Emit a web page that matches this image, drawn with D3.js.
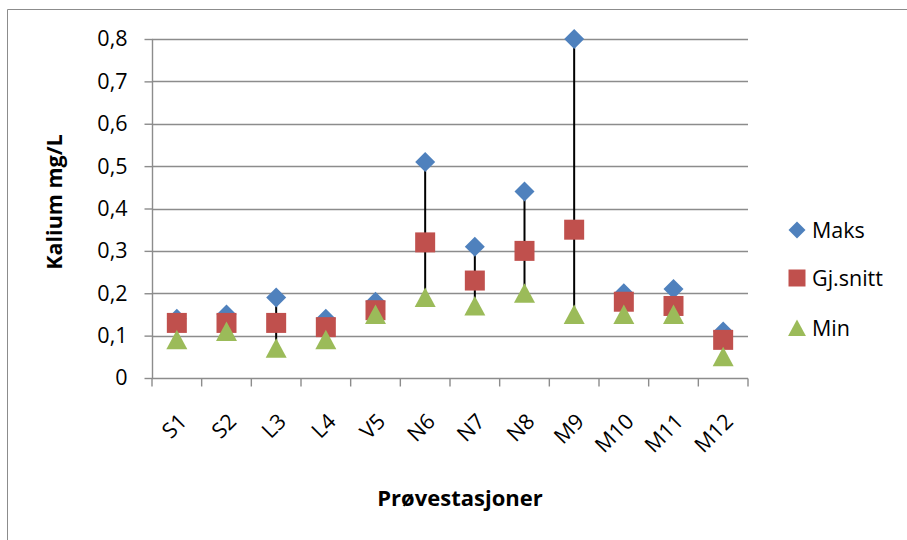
<!DOCTYPE html>
<html>
<head>
<meta charset="utf-8">
<script src="https://cdn.jsdelivr.net/npm/d3@7"></script>
<style>
  html, body { margin: 0; padding: 0; background: #fff; }
  svg { display: block; }
  text { font-family: "Open Sans", Lato, sans-serif; fill: #000; }
</style>
</head>
<body>
<svg id="chart" width="907" height="540"></svg>
<script>
// Sampling stations
const stations = ["S1", "S2", "L3", "L4", "V5", "N6", "N7", "N8", "M9", "M10", "M11", "M12"];
// Potassium (mg/L) per station
const maks   = [0.14, 0.15, 0.19, 0.14, 0.18, 0.51, 0.31, 0.44, 0.80, 0.20, 0.21, 0.11];
const snitt  = [0.13, 0.13, 0.13, 0.12, 0.16, 0.32, 0.23, 0.30, 0.35, 0.18, 0.17, 0.09];
const minVal = [0.09, 0.11, 0.07, 0.09, 0.15, 0.19, 0.17, 0.20, 0.15, 0.15, 0.15, 0.05];
const yTicks = [0, 0.1, 0.2, 0.3, 0.4, 0.5, 0.6, 0.7, 0.8];
const seriesNames = ["Maks", "Gj.snitt", "Min"];

const colors = { maks: "#4F81BD", snitt: "#C0504D", min: "#9BBB59" };
const FS = 21.5;
const svg = d3.select("#chart");

// chart frame
svg.append("path")
  .attr("d", "M7.5,560 V9.5 H920")
  .attr("fill", "none").attr("stroke", "#8c8c8c").attr("stroke-width", 1);

const plot = { left: 152, right: 748, top: 39, bottom: 378 };

const x = d3.scaleBand().domain(stations).range([plot.left, plot.right]);
const y = d3.scaleLinear().domain([0, 0.8]).range([plot.bottom, plot.top]);

// horizontal gridlines
svg.append("g").selectAll("line").data(yTicks.slice(1)).join("line")
  .attr("x1", plot.left).attr("x2", plot.right)
  .attr("y1", d => Math.round(y(d)) + 0.5).attr("y2", d => Math.round(y(d)) + 0.5)
  .attr("stroke", "#8c8c8c").attr("stroke-width", 1.4);

// y axis
const yAxis = svg.append("g")
  .attr("transform", `translate(${plot.left + 0.5},0)`)
  .call(d3.axisLeft(y).tickValues(yTicks).tickSize(8).tickPadding(17)
    .tickFormat(d => d === 0 ? "0" : d3.format(".1f")(d).replace(".", ",")));
yAxis.select(".domain").attr("stroke", "#8c8c8c").attr("stroke-width", 1.4).attr("d", `M0,${plot.top}V${plot.bottom}`);
yAxis.selectAll(".tick line").attr("stroke", "#8c8c8c").attr("stroke-width", 1.4);
yAxis.selectAll(".tick text").attr("font-size", FS).attr("font-family", "'Open Sans', sans-serif").attr("fill", "#000");

// x axis
const xAxis = svg.append("g")
  .attr("transform", `translate(0,${plot.bottom + 0.5})`);
xAxis.append("line")
  .attr("x1", plot.left).attr("x2", plot.right)
  .attr("stroke", "#8c8c8c").attr("stroke-width", 1.4);
const xTickPos = d3.range(stations.length + 1).map(i => plot.left + i * x.bandwidth());
xAxis.selectAll("line.tk").data(xTickPos).join("line").attr("class", "tk")
  .attr("x1", d => d).attr("x2", d => d).attr("y1", 0).attr("y2", 8)
  .attr("stroke", "#8c8c8c").attr("stroke-width", 1.4);
xAxis.selectAll("text").data(stations).join("text")
  .attr("transform", d => `translate(${x(d) + x.bandwidth() / 2 + 6},${39}) rotate(-45)`)
  .attr("text-anchor", "end").attr("dy", "0.35em")
  .attr("font-size", FS)
  .text(d => d);

// axis titles
svg.append("text")
  .attr("transform", "translate(62,202) rotate(-90)")
  .attr("text-anchor", "middle").attr("font-weight", "bold").attr("font-size", FS)
  .text("Kalium mg/L");
svg.append("text")
  .attr("x", 460).attr("y", 506)
  .attr("text-anchor", "middle").attr("font-weight", "bold").attr("font-size", FS + 0.5)
  .text("Prøvestasjoner");

const cx = i => x(stations[i]) + x.bandwidth() / 2;

// high-low lines
svg.append("g").selectAll("line").data(stations).join("line")
  .attr("x1", (d, i) => cx(i)).attr("x2", (d, i) => cx(i))
  .attr("y1", (d, i) => y(maks[i])).attr("y2", (d, i) => y(minVal[i]))
  .attr("stroke", "#000").attr("stroke-width", 2);

// marker shapes
const diamond = s => `M0,${-s}L${s},0L0,${s}L${-s},0Z`;
const square = s => `M${-s},${-s}H${s}V${s}H${-s}Z`;
const triangle = s => `M0,${-s}L${s * 1.05},${s * 0.95}H${-s * 1.05}Z`;

svg.append("g").selectAll("path").data(maks).join("path")
  .attr("transform", (d, i) => `translate(${cx(i)},${y(d)})`)
  .attr("d", diamond(10)).attr("fill", colors.maks);
svg.append("g").selectAll("path").data(snitt).join("path")
  .attr("transform", (d, i) => `translate(${cx(i)},${y(d)})`)
  .attr("d", square(10)).attr("fill", colors.snitt);
svg.append("g").selectAll("path").data(minVal).join("path")
  .attr("transform", (d, i) => `translate(${cx(i)},${y(d)})`)
  .attr("d", triangle(10)).attr("fill", colors.min);

// legend
const legendShapes = [diamond(8.5), square(8.5), triangle(8.5)];
const legendColors = [colors.maks, colors.snitt, colors.min];
const legendY = [230, 278, 328];
const lg = svg.append("g").selectAll("g").data(seriesNames).join("g")
  .attr("transform", (d, i) => `translate(797,${legendY[i]})`);
lg.append("path").attr("d", (d, i) => legendShapes[i]).attr("fill", (d, i) => legendColors[i]);
lg.append("text").attr("x", 15).attr("dy", "0.35em").attr("font-size", FS).text(d => d);
</script>
</body>
</html>
